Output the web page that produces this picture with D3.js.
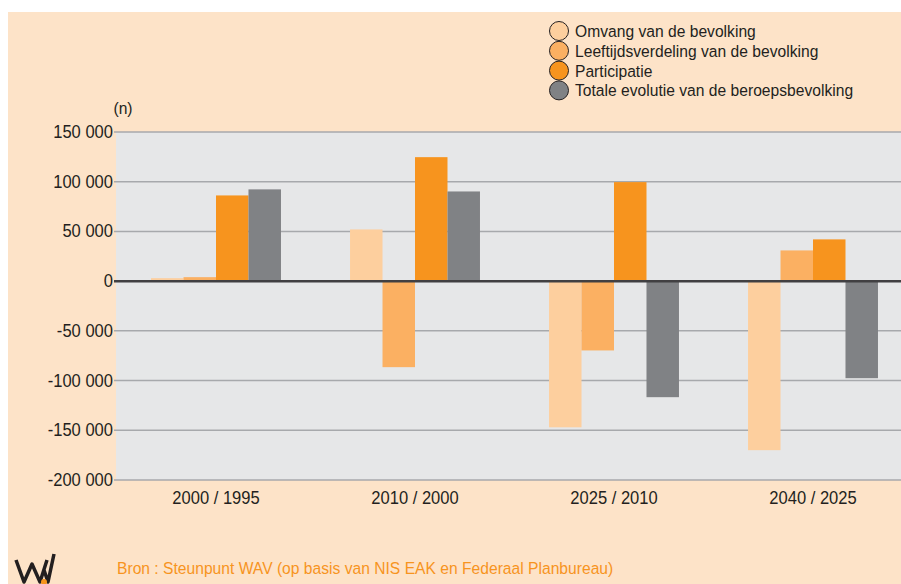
<!DOCTYPE html>
<html>
<head>
<meta charset="utf-8">
<script src="https://cdn.jsdelivr.net/npm/d3@7"></script>
<style>
  body { margin: 0; background: #fff; }
  svg { display: block; font-family: "Liberation Sans", Arial, sans-serif; }
</style>
</head>
<body>
<div id="chart"></div>
<script>
// periods on the x axis
var periods = ['2000 / 1995', '2010 / 2000', '2025 / 2010', '2040 / 2025'];

// series names (legend) and colours
var series = [
  'Omvang van de bevolking',
  'Leeftijdsverdeling van de bevolking',
  'Participatie',
  'Totale evolutie van de beroepsbevolking'
];
var colors = ['#fdcf9e', '#fbb062', '#f7941e', '#808285'];

// values per series, one per period
var omvang = [3000, 52000, -147000, -170000];
var leeftijd = [4000, -86500, -69700, 30900];
var participatie = [86200, 124700, 99600, 42000];
var totaal = [92300, 90200, -116700, -97600];

var yTicks = [150000, 100000, 50000, 0, -50000, -100000, -150000, -200000];
var source = 'Bron : Steunpunt WAV (op basis van NIS EAK en Federaal Planbureau)';

var values = [omvang, leeftijd, participatie, totaal];

var width = 901, height = 584;
var plot = {left: 116, right: 901, top: 132, bottom: 480};
var squeeze = 0.92; // no condensed font around, so narrow the text by hand

var svg = d3.select('#chart').append('svg')
  .attr('width', width)
  .attr('height', height);

// places a narrowed text at x,y
function label(sel, x, y) {
  return sel.attr('transform', function(d, i) {
    var px = typeof x === 'function' ? x(d, i) : x;
    var py = typeof y === 'function' ? y(d, i) : y;
    return 'translate(' + px + ',' + py + ') scale(' + squeeze + ',1)';
  });
}

// page background
svg.append('rect')
  .attr('x', 8).attr('y', 12)
  .attr('width', width - 8).attr('height', height - 12)
  .attr('fill', '#fde3c8');

// plot background
svg.append('rect')
  .attr('x', plot.left).attr('y', plot.top)
  .attr('width', plot.right - plot.left).attr('height', plot.bottom - plot.top)
  .attr('fill', '#e6e7e8');

var y = d3.scaleLinear()
  .domain([-200000, 150000])
  .range([plot.bottom, plot.top]);

var x0 = d3.scaleBand()
  .domain(periods)
  .range([plot.left, 913])
  .paddingInner(0.347)
  .paddingOuter(0.176);

var x1 = d3.scaleBand()
  .domain(d3.range(series.length))
  .range([0, x0.bandwidth()]);

var fmt = function(v) {
  return d3.format(',')(v).replace(/,/g, ' ').replace('\u2212', '-');
};

// grid lines + tick labels
var grid = svg.append('g');
grid.selectAll('line')
  .data(yTicks.filter(function(d) { return d !== 0; }))
  .enter().append('line')
  .attr('x1', plot.left - 2).attr('x2', plot.right)
  .attr('y1', function(d) { return y(d); })
  .attr('y2', function(d) { return y(d); })
  .attr('stroke', '#a7a9ac')
  .attr('stroke-width', 1.5);

label(grid.selectAll('text')
  .data(yTicks)
  .enter().append('text'), plot.left - 3, function(d) { return y(d) + 6; })
  .attr('text-anchor', 'end')
  .attr('font-size', 18)
  .attr('fill', '#231f20')
  .text(fmt);

label(svg.append('text'), 123, 114)
  .attr('text-anchor', 'middle')
  .attr('font-size', 17)
  .attr('fill', '#231f20')
  .text('(n)');

// bars
var groups = svg.append('g').selectAll('g')
  .data(periods)
  .enter().append('g')
  .attr('transform', function(d) { return 'translate(' + x0(d) + ',0)'; });

groups.selectAll('rect')
  .data(function(d, i) {
    return values.map(function(s, j) { return {s: j, v: s[i]}; });
  })
  .enter().append('rect')
  .attr('x', function(d) { return x1(d.s); })
  .attr('width', x1.bandwidth())
  .attr('y', function(d) { return y(Math.max(0, d.v)); })
  .attr('height', function(d) { return Math.abs(y(d.v) - y(0)); })
  .attr('fill', function(d) { return colors[d.s]; });

// zero line
svg.append('line')
  .attr('x1', plot.left - 2).attr('x2', plot.right)
  .attr('y1', y(0)).attr('y2', y(0))
  .attr('stroke', '#414042')
  .attr('stroke-width', 2.5);

// x labels
label(svg.append('g').selectAll('text')
  .data(periods)
  .enter().append('text'), function(d) { return x0(d) + x0.bandwidth() / 2; }, 504)
  .attr('text-anchor', 'middle')
  .attr('font-size', 18)
  .attr('fill', '#231f20')
  .text(function(d) { return d; });

// legend
var legend = svg.append('g').selectAll('g')
  .data(series)
  .enter().append('g')
  .attr('transform', function(d, i) { return 'translate(559,' + (31 + i * 19.8) + ')'; });

legend.append('circle')
  .attr('r', 9.5)
  .attr('fill', function(d, i) { return colors[i]; })
  .attr('stroke', '#231f20')
  .attr('stroke-width', 1);

label(legend.append('text'), 16, 6)
  .attr('font-size', 17)
  .attr('fill', '#231f20')
  .text(function(d) { return d; });

// source
label(svg.append('text'), 117, 574)
  .attr('font-size', 17)
  .attr('fill', '#f7941e')
  .text(source);

// logo
var logo = svg.append('g').attr('transform', 'translate(15,554)');
logo.append('path')
  .attr('d', 'M1,6 L9,28 L17,10 L25,28 L32,6 M29,16 L33,28 L39,0')
  .attr('fill', 'none')
  .attr('stroke', '#231f20')
  .attr('stroke-width', 3.5)
  .attr('stroke-linejoin', 'round');
logo.append('circle')
  .attr('cx', 29).attr('cy', 28).attr('r', 3)
  .attr('fill', '#f7941e');
</script>
</body>
</html>
